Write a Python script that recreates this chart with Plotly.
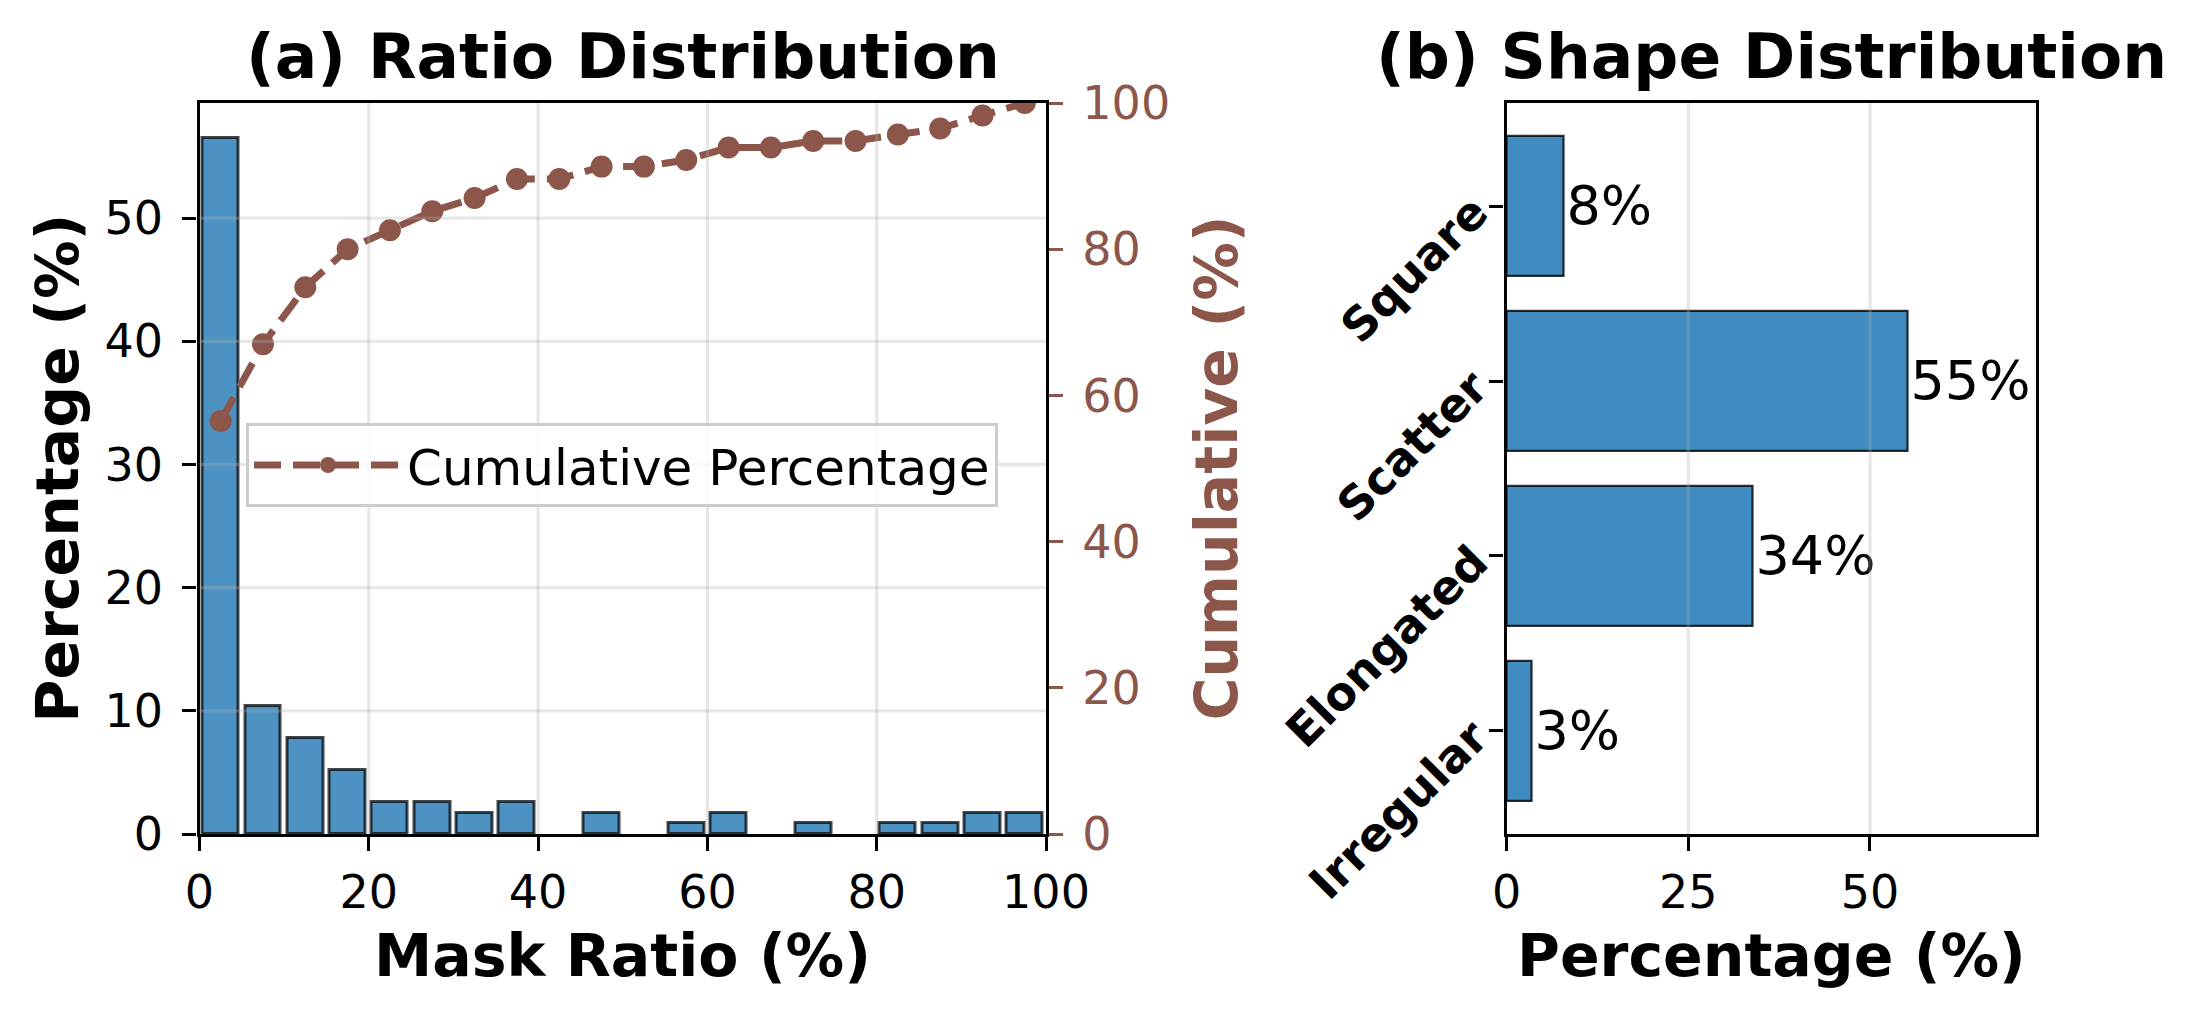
import plotly.graph_objects as go

# ---------------- data ----------------
bin_centers = [2.5, 7.5, 12.5, 17.5, 22.5, 27.5, 32.5, 37.5, 42.5, 47.5,
               52.5, 57.5, 62.5, 67.5, 72.5, 77.5, 82.5, 87.5, 92.5, 97.5]
ratio_pct = [56.5, 10.4, 7.8, 5.2, 2.6, 2.6, 1.7, 2.6, 0.0, 1.7,
             0.0, 0.9, 1.7, 0.0, 0.9, 0.0, 0.9, 0.9, 1.7, 1.7]
cum_pct = [56.5, 67.0, 74.8, 80.0, 82.6, 85.2, 87.0, 89.6, 89.6, 91.3,
           91.3, 92.2, 93.9, 93.9, 94.8, 94.8, 95.7, 96.5, 98.3, 100.0]

shape_cats = ["Irregular", "Elongated", "Scatter", "Square"]
shape_pct = [3.5, 33.8, 55.2, 7.8]
shape_labels = ["3%", "34%", "55%", "8%"]

ratio_ticks = [0, 20, 40, 60, 80, 100]
pct_ticks = [0, 10, 20, 30, 40, 50]
cum_ticks = [0, 20, 40, 60, 80, 100]
shape_ticks = [0, 25, 50]

# ---------------- style ----------------
W, H = 2200, 1019
FONT = "DejaVu Sans"
BROWN = "#8c564b"
BAR_FILL = "rgba(31,119,180,0.8)"
GRID = "rgba(176,176,176,0.3)"
TICK_SIZE = 46
LABEL_SIZE = 58.5
TITLE_SIZE = 63


def px_x(p):
    return p / W


def px_y(p):
    return 1 - p / H


# plot area pixel boxes
A_L, A_R, TOP, BOT = 199.5, 1046, 103, 834
B_L, B_R = 1506.6, 2035.7

fig = go.Figure()

edge_widths = [3 if v > 0 else 0 for v in ratio_pct]
fig.add_trace(go.Bar(
    x=bin_centers, y=ratio_pct, width=4.25,
    marker=dict(color=BAR_FILL, line=dict(color="rgba(0,0,0,0.72)", width=edge_widths)),
    xaxis="x", yaxis="y", showlegend=False,
))

fig.add_trace(go.Scatter(
    x=bin_centers, y=cum_pct, mode="lines+markers",
    name="Cumulative Percentage",
    line=dict(color=BROWN, width=7, dash="27px,12px"),
    marker=dict(color=BROWN, size=22),
    xaxis="x", yaxis="y2", showlegend=True,
))

fig.add_trace(go.Bar(
    y=shape_cats, x=shape_pct, orientation="h", width=0.8,
    text=shape_labels, textposition="outside", cliponaxis=False,
    textfont=dict(size=54, color="black", family=FONT),
    constraintext="none",
    marker=dict(color="rgba(31,119,180,0.85)", line=dict(color="rgba(0,0,0,0.8)", width=2.2)),
    xaxis="x2", yaxis="y3", showlegend=False,
))

common_axis = dict(
    showline=True, linecolor="black", linewidth=3.3,
    ticks="outside", ticklen=14, tickwidth=3.3, tickcolor="black",
    tickfont=dict(family=FONT, size=TICK_SIZE, color="black"),
    zeroline=False, automargin=False, showgrid=False,
)

fig.update_layout(
    width=W, height=H, autosize=False,
    margin=dict(l=0, r=0, t=0, b=0, pad=0, autoexpand=False),
    paper_bgcolor="white", plot_bgcolor="white",
    font=dict(family=FONT, color="black"),
    bargap=0,
    xaxis=dict(
        domain=[px_x(A_L), px_x(A_R)], range=[0, 100], anchor="y",
        tickmode="array", tickvals=ratio_ticks, mirror=True,
        ticklabelstandoff=2,
        **common_axis,
    ),
    yaxis=dict(
        domain=[px_y(BOT), px_y(TOP)], range=[0, 59.35], anchor="x",
        tickmode="array", tickvals=pct_ticks,
        ticklabelstandoff=10,
        **common_axis,
    ),
    yaxis2=dict(
        overlaying="y", side="right", anchor="x", range=[0, 100],
        tickmode="array", tickvals=cum_ticks, showgrid=False,
        showline=True, linecolor="black", linewidth=3.3,
        ticks="outside", ticklen=14, tickwidth=3.3, tickcolor=BROWN,
        tickfont=dict(family=FONT, size=TICK_SIZE, color=BROWN),
        zeroline=False, ticklabelstandoff=10, automargin=False,
    ),
    xaxis2=dict(
        domain=[px_x(B_L), px_x(B_R)], range=[0, 72.8], anchor="y3",
        tickmode="array", tickvals=shape_ticks, mirror=True,
        ticklabelstandoff=2,
        **common_axis,
    ),
    yaxis3=dict(
        domain=[px_y(BOT), px_y(TOP)], range=[-0.59, 3.59], anchor="x2",
        type="category", categoryorder="array", categoryarray=shape_cats,
        mirror=True, showgrid=False, tickangle=-45,
        showline=True, linecolor="black", linewidth=3.3,
        ticks="outside", ticklen=14, tickwidth=3.3, tickcolor="black",
        tickfont=dict(family=FONT, size=TICK_SIZE, color="black", weight="bold"),
        zeroline=False, ticklabelstandoff=6, automargin=False,
    ),
    legend=dict(
        x=px_x(246), y=px_y(423), xanchor="left", yanchor="top",
        font=dict(family=FONT, size=50, color="black"),
        bgcolor="rgba(255,255,255,0.8)", bordercolor="#cccccc", borderwidth=3,
        itemwidth=148,
    ),
)

# grid lines drawn above the bars (as in the reference), at the tick positions
for v in ratio_ticks[1:-1]:
    fig.add_shape(type="line", xref="x", yref="y domain", x0=v, x1=v, y0=0, y1=1,
                  line=dict(color=GRID, width=3.3), layer="above")
for v in pct_ticks[1:]:
    fig.add_shape(type="line", xref="x domain", yref="y", x0=0, x1=1, y0=v, y1=v,
                  line=dict(color=GRID, width=3.3), layer="above")
for v in shape_ticks[1:]:
    fig.add_shape(type="line", xref="x2", yref="y3 domain", x0=v, x1=v, y0=0, y1=1,
                  line=dict(color=GRID, width=3.3), layer="above")

ann = [
    dict(text="<b>(a) Ratio Distribution</b>", x=px_x((A_L + A_R) / 2), y=px_y(56.5),
         font=dict(size=TITLE_SIZE)),
    dict(text="<b>(b) Shape Distribution</b>", x=px_x((B_L + B_R) / 2), y=px_y(56.5),
         font=dict(size=TITLE_SIZE)),
    dict(text="<b>Mask Ratio (%)</b>", x=px_x((A_L + A_R) / 2), y=px_y(956),
         font=dict(size=LABEL_SIZE)),
    dict(text="<b>Percentage (%)</b>", x=px_x((B_L + B_R) / 2), y=px_y(956),
         font=dict(size=LABEL_SIZE)),
    dict(text="<b>Percentage (%)</b>", x=px_x(57), y=px_y((TOP + BOT) / 2),
         font=dict(size=LABEL_SIZE), textangle=-90),
    dict(text="<b>Cumulative (%)</b>", x=px_x(1216), y=px_y((TOP + BOT) / 2),
         font=dict(size=LABEL_SIZE, color=BROWN), textangle=-90),
]
for a in ann:
    f = a.pop("font")
    f.setdefault("family", FONT)
    f.setdefault("color", "black")
    fig.add_annotation(xref="paper", yref="paper", xanchor="center", yanchor="middle",
                       showarrow=False, font=f, **a)

fig.write_html("out.html")
